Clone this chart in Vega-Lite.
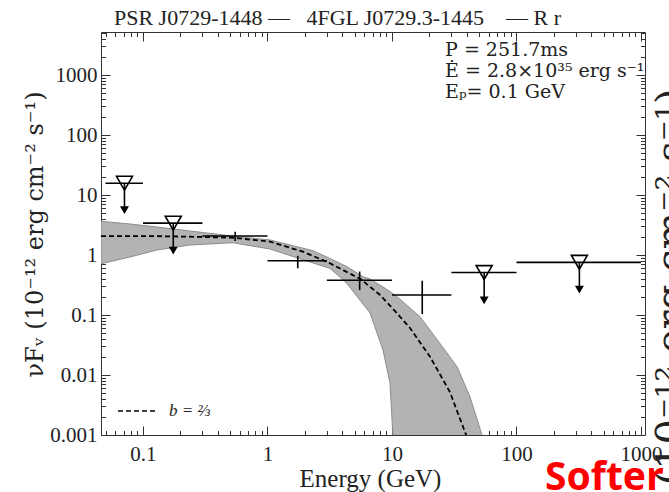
{
  "$schema": "https://vega.github.io/schema/vega-lite/v6.json",
  "width": 544,
  "height": 403,
  "autosize": {"type": "none"},
  "padding": {"left": 101, "top": 32, "right": 24, "bottom": 57},
  "background": "white",
  "config": {
    "view": {"stroke": null},
    "font": "Liberation Serif",
    "axis": {
      "labelFont": "Liberation Serif",
      "titleFont": "Liberation Serif",
      "labelColor": "#222222",
      "titleColor": "#222222",
      "titleFontWeight": "normal",
      "domainColor": "#333333",
      "tickColor": "#333333",
      "domainWidth": 1,
      "tickWidth": 1,
      "grid": false,
      "labelOverlap": false,
      "labelFlush": false
    }
  },
  "datasets": {
    "sed": [
      {"e": 0.071, "elo": 0.05, "ehi": 0.1, "flux": 15.7, "flo": null, "fhi": null, "ul": true, "arrow": 5.6},
      {"e": 0.175, "elo": 0.1, "ehi": 0.3, "flux": 3.4, "flo": null, "fhi": null, "ul": true, "arrow": 1.18},
      {"e": 0.55, "elo": 0.3, "ehi": 1, "flux": 2.07, "flo": 1.71, "fhi": 2.44, "ul": false, "arrow": null},
      {"e": 1.75, "elo": 1, "ehi": 3, "flux": 0.8, "flo": 0.6, "fhi": 0.97, "ul": false, "arrow": null},
      {"e": 5.5, "elo": 3, "ehi": 10, "flux": 0.38, "flo": 0.26, "fhi": 0.53, "ul": false, "arrow": null},
      {"e": 17.5, "elo": 10, "ehi": 30, "flux": 0.215, "flo": 0.104, "fhi": 0.373, "ul": false, "arrow": null},
      {"e": 55, "elo": 30, "ehi": 100, "flux": 0.51, "flo": null, "fhi": null, "ul": true, "arrow": 0.176},
      {"e": 320, "elo": 100, "ehi": 1000, "flux": 0.755, "flo": null, "fhi": null, "ul": true, "arrow": 0.264}
    ],
    "model": [
      {"e": 0.046, "flux": 2.07, "fit": "b = ⅔"},
      {"e": 0.114, "flux": 2.07, "fit": "b = ⅔"},
      {"e": 0.2385, "flux": 2.02, "fit": "b = ⅔"},
      {"e": 0.528, "flux": 1.94, "fit": "b = ⅔"},
      {"e": 1.047, "flux": 1.67, "fit": "b = ⅔"},
      {"e": 1.93, "flux": 1.135, "fit": "b = ⅔"},
      {"e": 3.18, "flux": 0.727, "fit": "b = ⅔"},
      {"e": 5.63, "flux": 0.393, "fit": "b = ⅔"},
      {"e": 8.01, "flux": 0.216, "fit": "b = ⅔"},
      {"e": 10.97, "flux": 0.107, "fit": "b = ⅔"},
      {"e": 13.95, "flux": 0.0607, "fit": "b = ⅔"},
      {"e": 20.2, "flux": 0.0202, "fit": "b = ⅔"},
      {"e": 29.2, "flux": 0.0052, "fit": "b = ⅔"},
      {"e": 37.2, "flux": 0.00137, "fit": "b = ⅔"},
      {"e": 41.0, "flux": 0.0008, "fit": "b = ⅔"}
    ],
    "band": [
      {"e": 0.046, "lo": 0.713, "hi": 3.65},
      {"e": 0.0786, "lo": 0.926, "hi": 3.29},
      {"e": 0.1296, "lo": 1.21, "hi": 2.93},
      {"e": 0.2385, "lo": 1.468, "hi": 2.51},
      {"e": 0.528, "lo": 1.6, "hi": 2.07},
      {"e": 1.047, "lo": 1.259, "hi": 1.78},
      {"e": 2.32, "lo": 0.736, "hi": 1.18},
      {"e": 3.18, "lo": 0.6, "hi": 0.874},
      {"e": 4.35, "lo": 0.335, "hi": 0.638},
      {"e": 5.85, "lo": 0.1526, "hi": 0.435},
      {"e": 6.66, "lo": 0.108, "hi": 0.398},
      {"e": 8.47, "lo": 0.0261, "hi": 0.293},
      {"e": 9.64, "lo": 0.00736, "hi": 0.246},
      {"e": 10.19, "lo": 0.0009, "hi": 0.227},
      {"e": 10.3, "lo": 0.000001, "hi": 0.222},
      {"e": 10.97, "lo": 0.000001, "hi": 0.202},
      {"e": 16.8, "lo": 0.000001, "hi": 0.0937},
      {"e": 20.2, "lo": 0.000001, "hi": 0.0562},
      {"e": 26.2, "lo": 0.000001, "hi": 0.0271},
      {"e": 33.3, "lo": 0.000001, "hi": 0.01375},
      {"e": 42.3, "lo": 0.000001, "hi": 0.00435},
      {"e": 52.8, "lo": 0.000001, "hi": 0.001},
      {"e": 56, "lo": 0.000001, "hi": 0.0006}
    ]
  },
  "layer": [
    {
      "data": {"name": "band"},
      "mark": {"type": "area", "clip": true, "fill": "#b3b3b3", "stroke": "#8c8c8c", "strokeWidth": 1},
      "encoding": {
        "x": {
          "field": "e", "type": "quantitative",
          "scale": {"type": "log", "domain": [0.046, 1077], "nice": false},
          "axis": {
            "orient": "bottom",
            "values": [0.05,0.06,0.07,0.08,0.09,0.1,0.2,0.3,0.4,0.5,0.6,0.7,0.8,0.9,1,2,3,4,5,6,7,8,9,10,20,30,40,50,60,70,80,90,100,200,300,400,500,600,700,800,900,1000],
            "labelExpr": "indexof([0.1,1,10,100,1000], datum.value) >= 0 ? '' + datum.value : ''",
            "tickSize": {"condition": {"test": "indexof([0.1,1,10,100,1000], datum.value) >= 0", "value": -9}, "value": -4.5},
            "labelFontSize": 21,
            "labelPadding": 17,
            "title": "Energy (GeV)",
            "titleFontSize": 25,
            "titleX": 269,
            "titleY": 51,
            "titleAlign": "center",
            "titleBaseline": "alphabetic"
          }
        },
        "y": {
          "field": "hi", "type": "quantitative",
          "scale": {"type": "log", "domain": [0.001, 5210], "nice": false},
          "axis": {
            "orient": "left",
            "values": [0.001,0.002,0.003,0.004,0.005,0.006,0.007,0.008,0.009,0.01,0.02,0.03,0.04,0.05,0.06,0.07,0.08,0.09,0.1,0.2,0.3,0.4,0.5,0.6,0.7,0.8,0.9,1,2,3,4,5,6,7,8,9,10,20,30,40,50,60,70,80,90,100,200,300,400,500,600,700,800,900,1000,2000,3000,4000,5000],
            "labelExpr": "indexof([0.001,0.01,0.1,1,10,100,1000], datum.value) >= 0 ? '' + datum.value : ''",
            "tickSize": {"condition": {"test": "indexof([0.001,0.01,0.1,1,10,100,1000], datum.value) >= 0", "value": -9}, "value": -4.5},
            "labelFontSize": 21,
            "labelPadding": 13,
            "labelBaseline": "middle",
            "title": "νFᵥ (10⁻¹² erg cm⁻² s⁻¹)",
            "titleFont": "DejaVu Serif",
            "titleFontSize": 24,
            "titleAngle": 270,
            "titleX": -59,
            "titleY": 202,
            "titleAlign": "center",
            "titleBaseline": "alphabetic"
          }
        },
        "y2": {"field": "lo"}
      }
    },
    {
      "data": {"name": "model"},
      "mark": {"type": "line", "clip": true, "color": "black", "strokeWidth": 1.8},
      "encoding": {
        "x": {
          "field": "e", "type": "quantitative",
          "scale": {"type": "log", "domain": [0.046, 1077], "nice": false},
          "axis": {
            "orient": "top",
            "values": [0.05,0.06,0.07,0.08,0.09,0.1,0.2,0.3,0.4,0.5,0.6,0.7,0.8,0.9,1,2,3,4,5,6,7,8,9,10,20,30,40,50,60,70,80,90,100,200,300,400,500,600,700,800,900,1000],
            "labels": false,
            "tickSize": {"condition": {"test": "indexof([0.1,1,10,100,1000], datum.value) >= 0", "value": -9}, "value": -4.5},
            "title": "PSR J0729-1448 —\u00a0\u00a0 4FGL J0729.3-1445\u00a0\u00a0\u00a0 — R r",
            "titleFontSize": 22,
            "titleX": 236,
            "titleY": -15,
            "titleAlign": "center",
            "titleBaseline": "middle"
          }
        },
        "y": {
          "field": "flux", "type": "quantitative",
          "scale": {"type": "log", "domain": [0.001, 5210], "nice": false},
          "axis": {
            "orient": "right",
            "values": [0.001,0.002,0.003,0.004,0.005,0.006,0.007,0.008,0.009,0.01,0.02,0.03,0.04,0.05,0.06,0.07,0.08,0.09,0.1,0.2,0.3,0.4,0.5,0.6,0.7,0.8,0.9,1,2,3,4,5,6,7,8,9,10,20,30,40,50,60,70,80,90,100,200,300,400,500,600,700,800,900,1000,2000,3000,4000,5000],
            "labels": false,
            "tickSize": {"condition": {"test": "indexof([0.001,0.01,0.1,1,10,100,1000], datum.value) >= 0", "value": -9}, "value": -4.5},
            "title": "νFᵥ (10⁻¹² erg cm⁻² s⁻¹)",
            "titleFont": "DejaVu Serif",
            "titleFontSize": 40,
            "titleAngle": 270,
            "titleX": 6,
            "titleY": 56,
            "titleAlign": "right",
            "titleBaseline": "top"
          }
        },
        "strokeDash": {
          "field": "fit", "type": "nominal",
          "scale": {"range": [[5, 3]]},
          "legend": {
            "orient": "bottom-left",
            "offset": 16,
            "padding": 0,
            "title": null,
            "symbolType": "stroke",
            "symbolSize": 1444,
            "symbolStrokeWidth": 1.6,
            "symbolStrokeColor": "black",
            "labelFont": "Liberation Serif",
            "labelFontSize": 17,
            "labelFontStyle": "italic",
            "labelColor": "#222222",
            "labelOffset": 12
          }
        }
      }
    },
    {
      "data": {"name": "sed"},
      "mark": {"type": "rule", "color": "black", "strokeWidth": 1.6},
      "encoding": {
        "x": {"field": "elo", "type": "quantitative", "scale": {"type": "log", "domain": [0.046, 1077], "nice": false}, "axis": null},
        "x2": {"field": "ehi"},
        "y": {"field": "flux", "type": "quantitative", "scale": {"type": "log", "domain": [0.001, 5210], "nice": false}, "axis": null}
      }
    },
    {
      "data": {"name": "sed"},
      "transform": [{"filter": "!datum.ul"}],
      "mark": {"type": "rule", "color": "black", "strokeWidth": 1.6},
      "encoding": {
        "x": {"field": "e", "type": "quantitative", "scale": {"type": "log", "domain": [0.046, 1077], "nice": false}, "axis": null},
        "y": {"field": "flo", "type": "quantitative", "scale": {"type": "log", "domain": [0.001, 5210], "nice": false}, "axis": null},
        "y2": {"field": "fhi"}
      }
    },
    {
      "data": {"name": "sed"},
      "transform": [{"filter": "datum.ul"}],
      "mark": {"type": "rule", "color": "black", "strokeWidth": 1.6},
      "encoding": {
        "x": {"field": "e", "type": "quantitative", "scale": {"type": "log", "domain": [0.046, 1077], "nice": false}, "axis": null},
        "y": {"field": "flux", "type": "quantitative", "scale": {"type": "log", "domain": [0.001, 5210], "nice": false}, "axis": null},
        "y2": {"field": "arrow"}
      }
    },
    {
      "data": {"name": "sed"},
      "transform": [{"filter": "datum.ul"}],
      "mark": {"type": "point", "shape": "triangle-down", "filled": false, "stroke": "black", "strokeWidth": 1.6, "size": 256, "opacity": 1},
      "encoding": {
        "x": {"field": "e", "type": "quantitative", "scale": {"type": "log", "domain": [0.046, 1077], "nice": false}, "axis": null},
        "y": {"field": "flux", "type": "quantitative", "scale": {"type": "log", "domain": [0.001, 5210], "nice": false}, "axis": null}
      }
    },
    {
      "data": {"name": "sed"},
      "transform": [{"filter": "datum.ul"}],
      "mark": {"type": "point", "shape": "triangle-down", "filled": true, "color": "black", "size": 80, "opacity": 1},
      "encoding": {
        "x": {"field": "e", "type": "quantitative", "scale": {"type": "log", "domain": [0.046, 1077], "nice": false}, "axis": null},
        "y": {"field": "arrow", "type": "quantitative", "scale": {"type": "log", "domain": [0.001, 5210], "nice": false}, "axis": null}
      }
    },
    {
      "data": {"values": [{}]},
      "mark": {
        "type": "text",
        "text": ["P = 251.7ms", "Ė = 2.8×10³⁵ erg s⁻¹", "Eₚ= 0.1 GeV"],
        "align": "left",
        "baseline": "alphabetic",
        "lineHeight": 21,
        "font": "DejaVu Serif",
        "fontSize": 19,
        "color": "#222222"
      },
      "encoding": {
        "x": {"datum": 26.7, "type": "quantitative", "scale": {"type": "log", "domain": [0.046, 1077], "nice": false}, "axis": null},
        "y": {"datum": 2073, "type": "quantitative", "scale": {"type": "log", "domain": [0.001, 5210], "nice": false}, "axis": null}
      }
    },
    {
      "data": {"values": [{}]},
      "mark": {
        "type": "text",
        "text": "Softer",
        "align": "left",
        "baseline": "alphabetic",
        "font": "Noto Sans",
        "fontWeight": "bold",
        "fontSize": 39,
        "color": "#ff0000"
      },
      "encoding": {
        "x": {"datum": 169.4, "type": "quantitative", "scale": {"type": "log", "domain": [0.046, 1077], "nice": false}, "axis": null},
        "y": {"datum": 0.0001212, "type": "quantitative", "scale": {"type": "log", "domain": [0.001, 5210], "nice": false}, "axis": null}
      }
    }
  ],
  "resolve": {"axis": {"x": "independent", "y": "independent"}}
}
